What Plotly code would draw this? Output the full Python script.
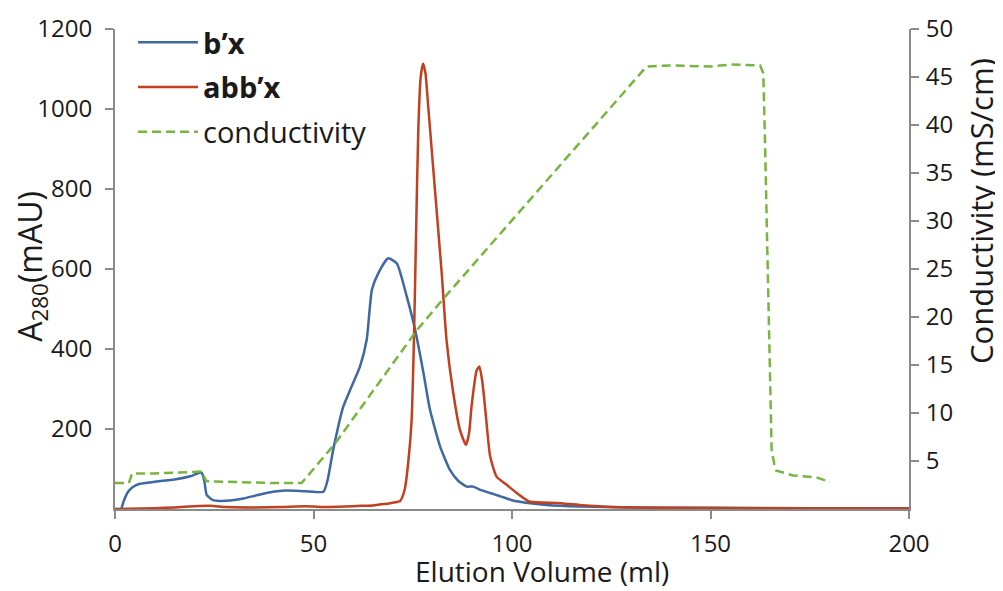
import plotly.graph_objects as go

# b'x (blue) A280 trace
bx_ml = [0, 1.5, 2.2, 3.3, 4.5, 6.3, 10, 15, 19, 21.8, 22.5, 23.1, 24.7, 26.4, 29, 32.3, 36, 39.8, 43, 46.6, 50, 52.5,
         53.5, 55, 57.5, 59.2, 61.7, 63.4, 64.7, 66.3, 68.8, 71, 73.5, 75.6, 77.7, 79.3, 81.9, 84.4, 86.5, 88.6,
         90.2, 92, 94.5, 97, 100, 104, 108.7, 117, 130, 150, 175, 200]
bx_val = [0, 0, 20, 43, 55, 63, 68, 74, 82, 91, 70, 35, 22, 20, 21, 26, 35, 43, 46, 45, 43, 43,
          70, 150, 256, 297, 356, 423, 548, 589, 627, 614, 531, 448, 340, 250, 156, 97, 70, 56,
          56, 48, 40, 32, 22, 15, 10, 6, 4, 3, 2, 2]

# abb'x (red) A280 trace
abbx_ml = [0, 10, 15, 20, 24, 28, 35, 42, 48, 52, 58, 62, 65, 67, 69, 71.8, 73, 73.9, 74.7, 75.3, 75.8, 76.4, 77,
           77.6, 78.2, 78.9, 80.6, 82.3, 83.5, 85.1, 86.9, 88.4, 89.2, 89.8, 91.1, 91.8, 92.5, 93.2, 94.5, 96.1,
           98.7, 101.2, 104.5, 111.3, 117, 125.5, 140, 160, 200]
abbx_val = [0, 2, 4, 7, 8, 5, 4, 5, 7, 5, 6, 8, 9, 12, 14, 20, 50, 120, 220, 423, 673, 950, 1080,
            1114, 1090, 1006, 797, 589, 423, 297, 197, 160, 190, 256, 347, 356, 320, 256, 131, 81,
            60, 40, 18, 15, 10, 5, 3, 2, 1]

# conductivity (green dashed) trace, right axis
cond_ml = [0, 3.5, 4.3, 10, 16, 21.8, 23, 30, 40, 47, 55.4, 76, 82.7, 133.9, 140, 150, 155, 162.5, 163.3,
           163.7, 165, 165.4, 166.2, 166.6, 170.8, 176.7, 180.1]
cond_val = [2.7, 2.7, 3.7, 3.7, 3.8, 3.9, 2.9, 2.8, 2.7, 2.7, 6.8, 18.6, 21.9, 46.1, 46.2, 46.1, 46.3, 46.2, 45.4,
            38.8, 11, 6.1, 4.4, 4.0, 3.5, 3.3, 2.8]

x_ticks = [0, 50, 100, 150, 200]
y_ticks = [200, 400, 600, 800, 1000, 1200]
y2_ticks = [5, 10, 15, 20, 25, 30, 35, 40, 45, 50]

x_title = "Elution Volume (ml)"
y_title = "A<sub>280</sub>(mAU)"
y2_title = "Conductivity (mS/cm)"

FONT = "Open Sans"
AX = "#8a8a8a"
TXT = "#1a1a1a"

fig = go.Figure()
fig.add_trace(go.Scatter(x=bx_ml, y=bx_val, mode="lines", name="<b>b\u2019x</b>", legendgroup="a",
                         line=dict(color="#3d68a2", width=2.5, shape="spline", smoothing=0.5)))
fig.add_trace(go.Scatter(x=abbx_ml, y=abbx_val, mode="lines", name="<b>abb\u2019x</b>", legendgroup="b",
                         line=dict(color="#c0401f", width=2.5, shape="spline", smoothing=0.5)))
fig.add_trace(go.Scatter(x=cond_ml, y=cond_val, mode="lines", name="conductivity", yaxis="y2",
                         legendgroup="c",
                         line=dict(color="#77b540", width=2.5, dash="9px,5px")))

axis_common = dict(showgrid=False, zeroline=False, automargin=False, showline=True, linecolor=AX,
                   linewidth=2, ticks="outside", tickcolor=AX, ticklen=8, tickwidth=2,
                   tickfont=dict(size=24, color=TXT))

fig.update_layout(
    width=995, height=583,
    margin=dict(l=107, r=94, t=21, b=82, autoexpand=False),
    paper_bgcolor="white", plot_bgcolor="white",
    font=dict(family=FONT, size=24, color=TXT),
    showlegend=True,
    legend=dict(x=0.0227, y=1.025, xanchor="left", yanchor="top", bgcolor="rgba(0,0,0,0)",
                font=dict(family=FONT, size=29, color=TXT), traceorder="grouped",
                tracegroupgap=4, itemwidth=60),
    xaxis=dict(range=[0, 200], tickvals=x_ticks, ticklabelstandoff=4, **axis_common),
    yaxis=dict(range=[0, 1200], tickvals=y_ticks, ticklabelstandoff=8, **axis_common),
    yaxis2=dict(range=[0, 50], tickvals=y2_ticks, overlaying="y", side="right",
                ticklabelstandoff=2, **axis_common),
    annotations=[
        dict(text=x_title, xref="paper", yref="paper", x=0.538, y=-0.129, xanchor="center",
             yanchor="middle", showarrow=False, font=dict(size=28, color=TXT)),
        dict(text=y_title, xref="paper", yref="paper", x=-0.105, y=0.506, xanchor="center",
             yanchor="middle", showarrow=False, textangle=-90, font=dict(size=32, color=TXT)),
        dict(text=y2_title, xref="paper", yref="paper", x=1.0907, y=0.621, xanchor="center",
             yanchor="middle", showarrow=False, textangle=-90, font=dict(size=31, color=TXT)),
    ],
)

fig.write_html("out.html")
